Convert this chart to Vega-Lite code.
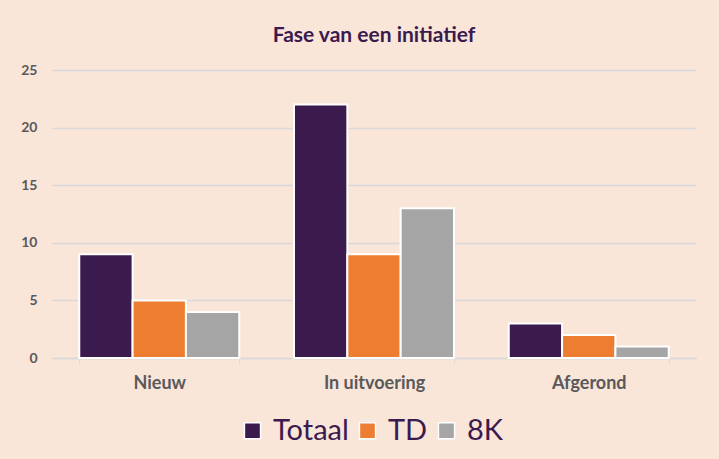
{
  "$schema": "https://vega.github.io/schema/vega-lite/v6.json",
  "autosize": {"type": "none"},
  "width": 644,
  "height": 288,
  "padding": {"left": 52, "top": 70, "right": 23, "bottom": 101},
  "background": "#FAE5D9",
  "title": {
    "text": "Fase van een initiatief",
    "font": "Lato",
    "fontSize": 21,
    "fontWeight": "bold",
    "color": "#3B1A4E",
    "offset": 17,
    "anchor": "middle"
  },
  "data": {
    "values": [
      {"Fase": "Nieuw", "Serie": "Totaal", "Aantal": 9},
      {"Fase": "Nieuw", "Serie": "TD", "Aantal": 5},
      {"Fase": "Nieuw", "Serie": "8K", "Aantal": 4},
      {"Fase": "In uitvoering", "Serie": "Totaal", "Aantal": 22},
      {"Fase": "In uitvoering", "Serie": "TD", "Aantal": 9},
      {"Fase": "In uitvoering", "Serie": "8K", "Aantal": 13},
      {"Fase": "Afgerond", "Serie": "Totaal", "Aantal": 3},
      {"Fase": "Afgerond", "Serie": "TD", "Aantal": 2},
      {"Fase": "Afgerond", "Serie": "8K", "Aantal": 1}
    ]
  },
  "mark": {"type": "bar", "stroke": "white", "strokeWidth": 2},
  "encoding": {
    "x": {
      "field": "Fase",
      "type": "nominal",
      "sort": ["Nieuw", "In uitvoering", "Afgerond"],
      "scale": {"paddingInner": 0.255, "paddingOuter": 0.127},
      "axis": {
        "title": null,
        "labelAngle": 0,
        "labelFont": "Lato",
        "labelFontSize": 18,
        "labelFontWeight": "bold",
        "labelColor": "#595959",
        "labelPadding": 11,
        "tickBand": "extent",
        "tickSize": 5,
        "tickColor": "#D9D9D9",
        "domainColor": "#D9D9D9",
        "domainWidth": 1.5,
        "grid": false
      }
    },
    "xOffset": {
      "field": "Serie",
      "type": "nominal",
      "sort": ["Totaal", "TD", "8K"],
      "scale": {"paddingInner": 0, "paddingOuter": 0}
    },
    "y": {
      "field": "Aantal",
      "type": "quantitative",
      "scale": {"domain": [0, 25], "nice": false},
      "axis": {
        "title": null,
        "values": [0, 5, 10, 15, 20, 25],
        "ticks": false,
        "domain": false,
        "labelFont": "Lato",
        "labelFontSize": 14,
        "labelFontWeight": "bold",
        "labelColor": "#595959",
        "labelPadding": 15,
        "gridColor": "#D9D9D9",
        "gridWidth": 1.5
      }
    },
    "color": {
      "field": "Serie",
      "type": "nominal",
      "sort": ["Totaal", "TD", "8K"],
      "scale": {"domain": ["Totaal", "TD", "8K"], "range": ["#3B1A4E", "#ED7D31", "#A5A5A5"]},
      "legend": {
        "title": null,
        "orient": "none",
        "legendX": 186,
        "legendY": 346,
        "direction": "horizontal",
        "symbolType": "square",
        "symbolSize": 260,
        "symbolStrokeColor": "white",
        "symbolStrokeWidth": 1.5,
        "symbolOpacity": 1,
        "labelFont": "Lato",
        "labelFontSize": 29,
        "labelColor": "#3B1A4E",
        "labelOffset": 6,
        "columnPadding": 4,
        "labelLimit": 200
      }
    }
  },
  "config": {"view": {"stroke": null}}
}
